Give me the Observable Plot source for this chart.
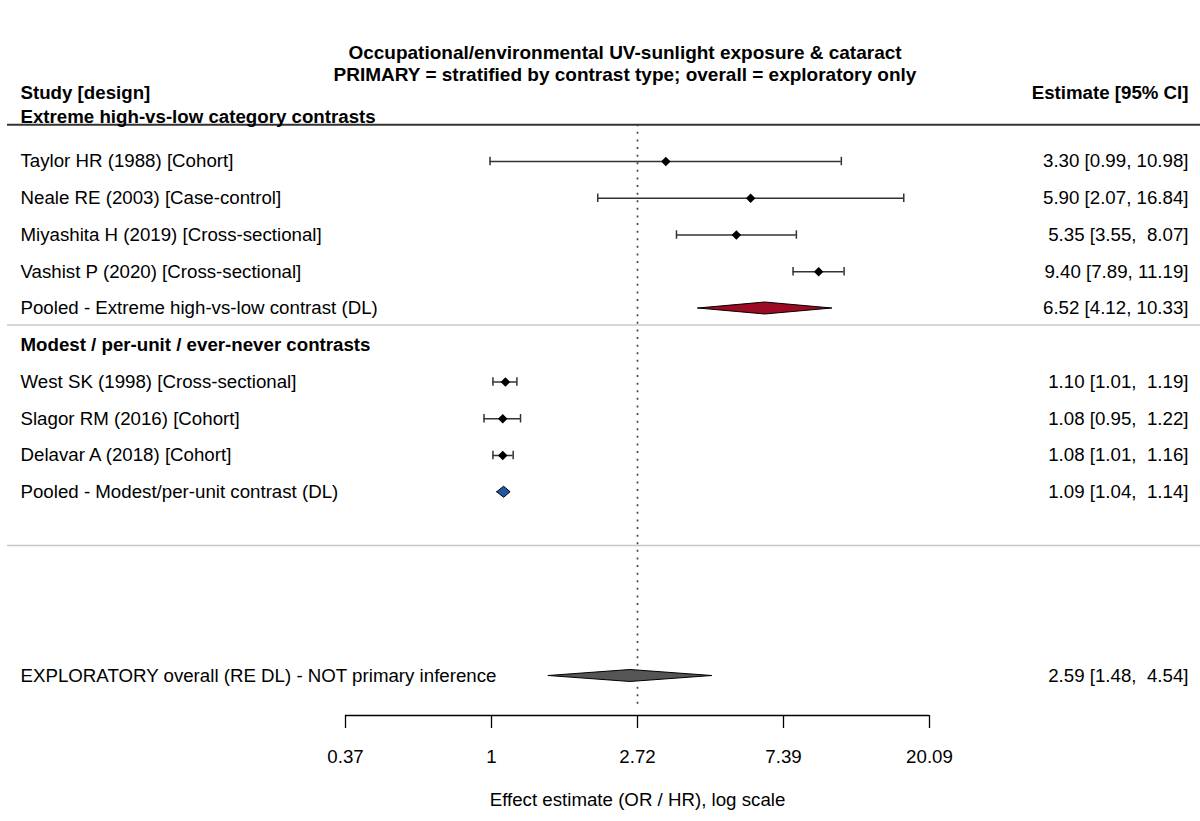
<!DOCTYPE html>
<html><head><meta charset="utf-8">
<script src="https://cdn.jsdelivr.net/npm/d3@7"></script>
<script src="https://cdn.jsdelivr.net/npm/@observablehq/plot@0.6"></script>
<style>
body{margin:0;background:#fff;font-family:"Liberation Sans",Arial,sans-serif;}
#title{height:70px;position:relative;}
#title div{position:absolute;left:0;width:1250px;text-align:center;font-weight:bold;font-size:19px;line-height:22px;color:#000;}
#chart svg{display:block;}
svg text{white-space:pre;}
</style></head><body>
<div id="title">
<div style="top:42px">Occupational/environmental UV-sunlight exposure &amp; cataract</div>
<div style="top:64px">PRIMARY = stratified by contrast type; overall = exploratory only</div>
</div>
<div id="chart"></div>
<script>
// ---------- data ----------
const groupNames = ["Extreme high-vs-low category contrasts", "Modest / per-unit / ever-never contrasts"];
const studyLabels = ["Taylor HR (1988) [Cohort]", "Neale RE (2003) [Case-control]", "Miyashita H (2019) [Cross-sectional]", "Vashist P (2020) [Cross-sectional]",
  "West SK (1998) [Cross-sectional]", "Slagor RM (2016) [Cohort]", "Delavar A (2018) [Cohort]"];
const studyGroup = [0, 0, 0, 0, 1, 1, 1];
const studyEst = [3.30, 5.90, 5.35, 9.40, 1.10, 1.08, 1.08];
const studyLo  = [0.99, 2.07, 3.55, 7.89, 1.01, 0.95, 1.01];
const studyHi  = [10.98, 16.84, 8.07, 11.19, 1.19, 1.22, 1.16];
const pooledLabels = ["Pooled - Extreme high-vs-low contrast (DL)", "Pooled - Modest/per-unit contrast (DL)"];
const pooledEst = [6.52, 1.09];
const pooledLo  = [4.12, 1.04];
const pooledHi  = [10.33, 1.14];
const overallLabel = "EXPLORATORY overall (RE DL) - NOT primary inference";
const overallEst = 2.59, overallLo = 1.48, overallHi = 4.54;
const xTickValues = [0.3679, 1, 2.7183, 7.3891, 20.0855];
const xTickLabels = ["0.37", "1", "2.72", "7.39", "20.09"];
const xLabel = "Effect estimate (OR / HR), log scale";
const refValue = 2.7183;

// ---------- layout ----------
const TOP = 70;
const W = 1200, H = 821 - TOP, rowPx = 36.75, row0Px = 124.25 - TOP, frameBottom = 715 - TOP;
const pxPerLn = 146, onePx = 491;
const FS = 18.7;
const xDomain = [Math.exp((0 - onePx) / pxPerLn), Math.exp((W - onePx) / pxPerLn)];
const yDomain = [(frameBottom - row0Px) / rowPx, -row0Px / rowPx];
const fmt = (e, l, h) => `${e.toFixed(2)} [${l.toFixed(2)}, ${h.toFixed(2).padStart(5)}]`;

const studies = [], pooled = [], headers = [], separators = [];
let r = 1;
groupNames.forEach((g, gi) => {
  if (gi === 0) headers.push({label: g, row: -0.22});
  else { headers.push({label: g, row: r}); r++; }
  studyLabels.forEach((s, i) => {
    if (studyGroup[i] !== gi) return;
    studies.push({label: s, est: studyEst[i], lo: studyLo[i], hi: studyHi[i], row: r,
      text: fmt(studyEst[i], studyLo[i], studyHi[i])});
    r++;
  });
  pooled.push({label: pooledLabels[gi], est: pooledEst[gi], lo: pooledLo[gi], hi: pooledHi[gi], row: r,
    text: fmt(pooledEst[gi], pooledLo[gi], pooledHi[gi]), fill: gi === 0 ? "#9c0a24" : "#2157a5", h: gi === 0 ? 0.163 : 0.15});
  separators.push({row: r + (gi === groupNames.length - 1 ? 1.45 : 0.45)});
  r++;
});
const overallRow = r + 4;
pooled.push({label: overallLabel, est: overallEst, lo: overallLo, hi: overallHi, row: overallRow,
  text: fmt(overallEst, overallLo, overallHi), fill: "#555555", h: 0.163});

const diamondPts = pooled.flatMap((p, i) => [
  {id: i, x: p.lo, y1: p.row, y2: p.row},
  {id: i, x: p.est, y1: p.row - p.h, y2: p.row + p.h},
  {id: i, x: p.hi, y1: p.row, y2: p.row}
]);
const allRows = [...studies, ...pooled];
const capH = 0.115;
const yAxis = yDomain[0];
const tickLen = 13 / rowPx;
const xAxisMin = d3.min(xTickValues), xAxisMax = d3.max(xTickValues);
const ticks = xTickValues.map((v, i) => ({x: v, label: xTickLabels[i]}));

const chart = Plot.plot({
  width: W, height: H,
  marginLeft: 0, marginRight: 0, marginTop: 0, marginBottom: H - frameBottom,
  style: {fontFamily: '"Liberation Sans", Arial, sans-serif', fontSize: FS + "px", color: "#000", background: "transparent"},
  x: {type: "log", domain: xDomain, axis: null},
  y: {domain: yDomain, axis: null},
  marks: [
    // header rule + separators
    Plot.ruleY([0], {stroke: "#333", strokeWidth: 2, insetLeft: 7}),
    Plot.ruleY(separators, {y: "row", stroke: "#c8c8c8", strokeWidth: 1.5, insetLeft: 7}),
    // reference line
    Plot.ruleX([refValue], {y1: 0, y2: 15.85, stroke: "#444", strokeWidth: 1.7, strokeDasharray: "2,5.6"}),
    // CIs
    Plot.ruleY(studies, {y: "row", x1: "lo", x2: "hi", stroke: "#333", strokeWidth: 1.5}),
    Plot.ruleX(studies, {x: "lo", y1: d => d.row - capH, y2: d => d.row + capH, stroke: "#333", strokeWidth: 1.5}),
    Plot.ruleX(studies, {x: "hi", y1: d => d.row - capH, y2: d => d.row + capH, stroke: "#333", strokeWidth: 1.5}),
    Plot.dot(studies, {x: "est", y: "row", symbol: "diamond2", r: 4.3, fill: "#000", stroke: "none"}),
    // pooled diamonds
    ...pooled.map((p, i) => Plot.area(diamondPts.filter(d => d.id === i),
      {x1: "x", y1: "y1", y2: "y2", fill: p.fill, stroke: "#000", strokeWidth: 1})),
    // x axis (line, ticks, labels, title)
    Plot.ruleY([{y: yAxis, x1: xAxisMin, x2: xAxisMax}], {y: "y", x1: "x1", x2: "x2", stroke: "#000", strokeWidth: 1.3}),
    Plot.ruleX(ticks, {x: "x", y1: yAxis, y2: yAxis + tickLen, stroke: "#000", strokeWidth: 1.3}),
    Plot.text(ticks, {x: "x", text: "label", frameAnchor: "bottom", dy: 42, lineAnchor: "middle", fontSize: FS}),
    Plot.text([xLabel], {x: [Math.sqrt(xAxisMin * xAxisMax)], frameAnchor: "bottom", dy: 85, lineAnchor: "middle", fontSize: FS}),
    // text
    Plot.text(["Study [design]"], {frameAnchor: "left", y: [-0.87], dx: 20, textAnchor: "start", fontWeight: "bold", fontSize: FS}),
    Plot.text(["Estimate [95% CI]"], {frameAnchor: "right", y: [-0.87], dx: -12, textAnchor: "end", fontWeight: "bold", fontSize: FS}),
    Plot.text(headers, {frameAnchor: "left", y: "row", text: "label", dx: 20, textAnchor: "start", fontWeight: "bold", fontSize: FS}),
    Plot.text(studies, {frameAnchor: "left", y: "row", text: "label", dx: 20, textAnchor: "start", fontSize: FS, letterSpacing: 0.8}),
    Plot.text(pooled, {frameAnchor: "left", y: "row", text: "label", dx: 20, textAnchor: "start", fontSize: FS}),
    Plot.text(allRows, {frameAnchor: "right", y: "row", text: "text", dx: -12, textAnchor: "end", fontSize: FS, letterSpacing: 0.65})
  ]
});
document.getElementById("chart").appendChild(chart);
</script>
</body></html>
